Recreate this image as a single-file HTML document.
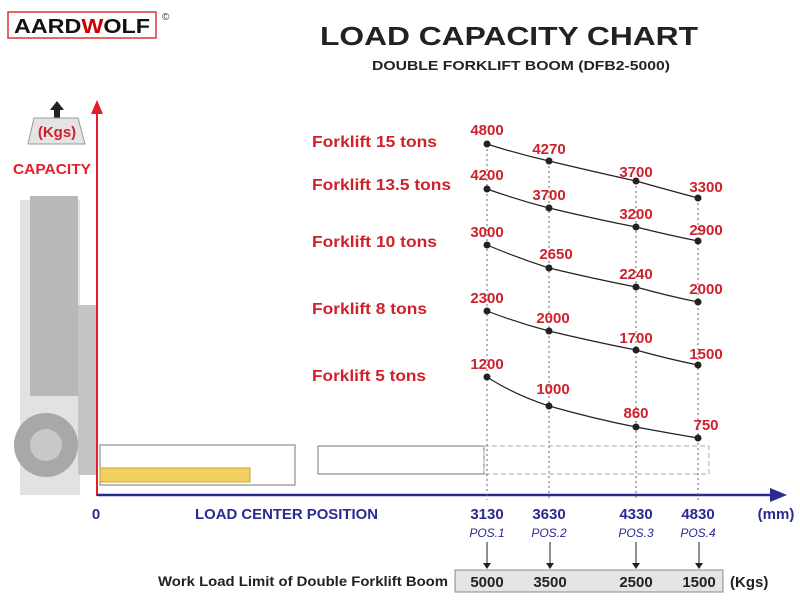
<!DOCTYPE html><html><head><meta charset="utf-8"><style>
body{margin:0;background:#fff;}
svg{display:block;font-family:"Liberation Sans",sans-serif;}
</style></head><body>
<svg width="800" height="600" viewBox="0 0 800 600">
<rect x="8" y="12" width="148" height="26" fill="#fff" stroke="#d33" stroke-width="1.5"/>
<text x="14" y="33" font-size="20" font-weight="bold" fill="#111" textLength="136" lengthAdjust="spacingAndGlyphs">AARD<tspan fill="#c00">W</tspan>OLF</text>
<text x="162" y="20" font-size="10" fill="#333">©</text>
<text x="320" y="45" font-size="26" font-weight="bold" fill="#222" textLength="378" lengthAdjust="spacingAndGlyphs">LOAD CAPACITY CHART</text>
<text x="372" y="70" font-size="13" font-weight="bold" fill="#222" textLength="298" lengthAdjust="spacingAndGlyphs">DOUBLE FORKLIFT BOOM (DFB2-5000)</text>
<rect x="54" y="108" width="6" height="10" fill="#222"/><polygon points="50,110 57,101 64,110" fill="#222"/>
<polygon points="34,118 78,118 85,144 28,144" fill="#e4e4e4" stroke="#999"/>
<text x="57" y="137" font-size="15" font-weight="bold" text-anchor="middle" fill="#d0202a">(Kgs)</text>
<text x="13" y="174" font-size="15" font-weight="bold" fill="#e0202a" textLength="78" lengthAdjust="spacingAndGlyphs">CAPACITY</text>
<g>
<rect x="20" y="200" width="60" height="295" fill="#e2e2e2"/>
<rect x="30" y="196" width="48" height="200" fill="#b8b8b8"/>
<rect x="78" y="305" width="18" height="170" fill="#c4c4c4"/>
<circle cx="46" cy="445" r="32" fill="#a8a8a8"/>
<circle cx="46" cy="445" r="16" fill="#c8c8c8"/>
</g>
<g fill="none" stroke="#777" stroke-width="1">
<rect x="100" y="445" width="195" height="40"/>
<rect x="100" y="468" width="150" height="14" fill="#f2d060" stroke="#caa030"/>
<rect x="318" y="446" width="166" height="28"/>
<rect x="484" y="446" width="225" height="28" stroke-dasharray="5,3" stroke="#aaa"/>
</g>
<line x1="97" y1="112" x2="97" y2="496" stroke="#e0202a" stroke-width="2"/>
<polygon points="91,114 97,100 103,114" fill="#e0202a"/>
<line x1="97" y1="495" x2="775" y2="495" stroke="#2a2a90" stroke-width="2.5"/>
<polygon points="770,488 787,495 770,502" fill="#2a2a90"/>
<text x="96" y="519" font-size="15" font-weight="bold" text-anchor="middle" fill="#2a2a90">0</text>
<text x="195" y="519" font-size="15" font-weight="bold" fill="#2a2a90" textLength="183" lengthAdjust="spacingAndGlyphs">LOAD CENTER POSITION</text>
<text x="776" y="519" font-size="15" font-weight="bold" text-anchor="middle" fill="#2a2a90">(mm)</text>
<g stroke="#666" stroke-dasharray="2,3" stroke-width="1">
<line x1="487" y1="144" x2="487" y2="500"/><line x1="549" y1="161" x2="549" y2="500"/><line x1="636" y1="181" x2="636" y2="500"/><line x1="698" y1="198" x2="698" y2="500"/></g>
<g font-size="15" font-weight="bold" text-anchor="middle" fill="#2a2a90">
<text x="487" y="519">3130</text><text x="549" y="519">3630</text><text x="636" y="519">4330</text><text x="698" y="519">4830</text></g>
<g font-size="12" font-style="italic" text-anchor="middle" fill="#2a2a90">
<text x="487" y="537">POS.1</text><text x="549" y="537">POS.2</text><text x="636" y="537">POS.3</text><text x="698" y="537">POS.4</text></g>
<g stroke="#222" stroke-width="1">
<line x1="487" y1="542" x2="487" y2="565"/><line x1="550" y1="542" x2="550" y2="565"/><line x1="636" y1="542" x2="636" y2="565"/><line x1="699" y1="542" x2="699" y2="565"/></g>
<g fill="#222"><polygon points="483,563 491,563 487,569"/><polygon points="546,563 554,563 550,569"/><polygon points="632,563 640,563 636,569"/><polygon points="695,563 703,563 699,569"/></g>
<text x="158" y="586" font-size="14" font-weight="bold" fill="#222" textLength="290" lengthAdjust="spacingAndGlyphs">Work Load Limit of Double Forklift Boom</text>
<rect x="455" y="570" width="268" height="22" fill="#e4e4e4" stroke="#888"/>
<g font-size="15" font-weight="bold" text-anchor="middle" fill="#222">
<text x="487" y="587">5000</text><text x="550" y="587">3500</text><text x="636" y="587">2500</text><text x="699" y="587">1500</text></g>
<text x="730" y="587" font-size="15" font-weight="bold" fill="#222">(Kgs)</text>
<g fill="none" stroke="#222" stroke-width="1.2">
<path d="M487,144 Q518,154 549,161 Q595,172 636,181 Q668,190 698,198"/>
<path d="M487,189 Q518,200 549,208 Q595,219 636,227 Q668,235 698,241"/>
<path d="M487,245 Q518,258 549,268 Q595,279 636,287 Q668,296 698,302"/>
<path d="M487,311 Q518,323 549,331 Q595,342 636,350 Q668,359 698,365"/>
<path d="M487,377 Q515,395 549,406 Q595,419 636,427 Q668,433 698,438"/>
</g>
<g fill="#222">
<circle cx="487" cy="144" r="3.5"/><circle cx="549" cy="161" r="3.5"/><circle cx="636" cy="181" r="3.5"/><circle cx="698" cy="198" r="3.5"/>
<circle cx="487" cy="189" r="3.5"/><circle cx="549" cy="208" r="3.5"/><circle cx="636" cy="227" r="3.5"/><circle cx="698" cy="241" r="3.5"/>
<circle cx="487" cy="245" r="3.5"/><circle cx="549" cy="268" r="3.5"/><circle cx="636" cy="287" r="3.5"/><circle cx="698" cy="302" r="3.5"/>
<circle cx="487" cy="311" r="3.5"/><circle cx="549" cy="331" r="3.5"/><circle cx="636" cy="350" r="3.5"/><circle cx="698" cy="365" r="3.5"/>
<circle cx="487" cy="377" r="3.5"/><circle cx="549" cy="406" r="3.5"/><circle cx="636" cy="427" r="3.5"/><circle cx="698" cy="438" r="3.5"/>
</g>
<g font-size="15" font-weight="bold" text-anchor="middle" fill="#d0202a">
<text x="487" y="135">4800</text><text x="549" y="154">4270</text><text x="636" y="177">3700</text><text x="706" y="192">3300</text>
<text x="487" y="180">4200</text><text x="549" y="200">3700</text><text x="636" y="219">3200</text><text x="706" y="235">2900</text>
<text x="487" y="237">3000</text><text x="556" y="259">2650</text><text x="636" y="279">2240</text><text x="706" y="294">2000</text>
<text x="487" y="303">2300</text><text x="553" y="323">2000</text><text x="636" y="343">1700</text><text x="706" y="359">1500</text>
<text x="487" y="369">1200</text><text x="553" y="394">1000</text><text x="636" y="418">860</text><text x="706" y="430">750</text>
</g>
<g font-size="16" font-weight="bold" fill="#d0202a">
<text x="312" y="147" textLength="125" lengthAdjust="spacingAndGlyphs">Forklift 15 tons</text>
<text x="312" y="190" textLength="139" lengthAdjust="spacingAndGlyphs">Forklift 13.5 tons</text>
<text x="312" y="247" textLength="125" lengthAdjust="spacingAndGlyphs">Forklift 10 tons</text>
<text x="312" y="314" textLength="115" lengthAdjust="spacingAndGlyphs">Forklift 8 tons</text>
<text x="312" y="381" textLength="114" lengthAdjust="spacingAndGlyphs">Forklift 5 tons</text>
</g>
</svg>
</body></html>
